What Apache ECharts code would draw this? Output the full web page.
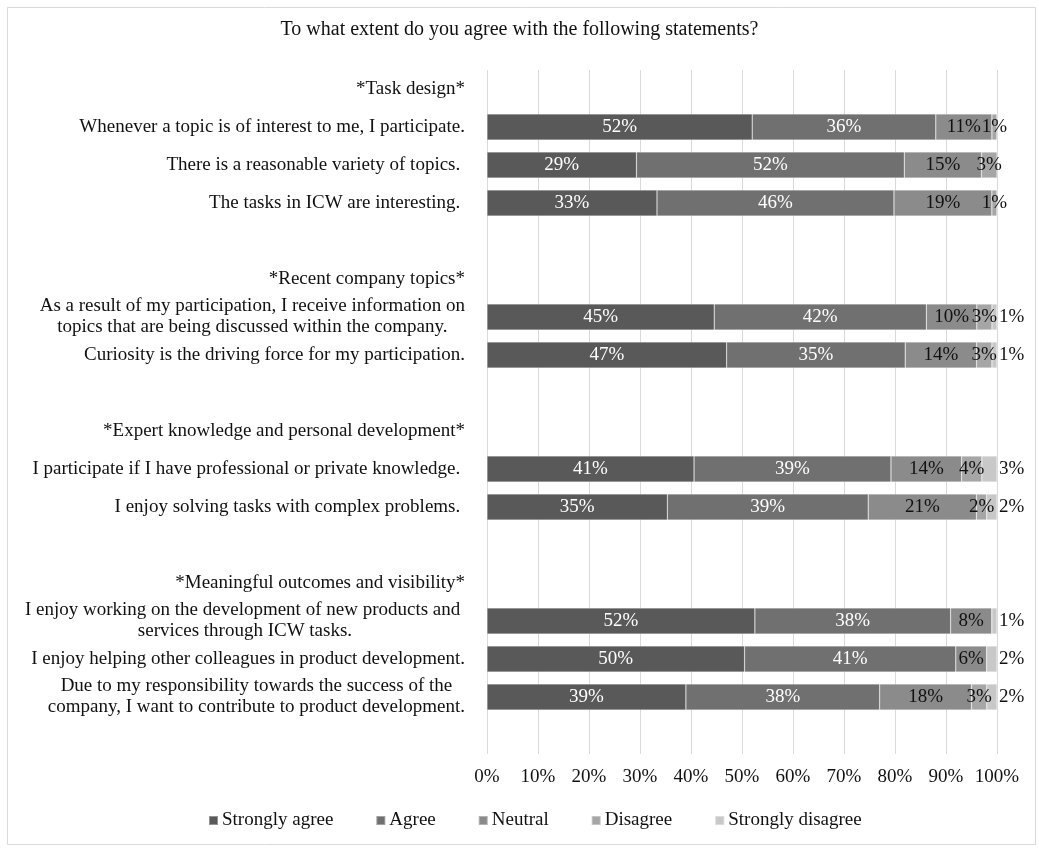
<!DOCTYPE html>
<html><head><meta charset="utf-8">
<script src="https://cdn.jsdelivr.net/npm/echarts@6/dist/echarts.min.js"></script>
<style>html,body{margin:0;padding:0;background:#fff}#c{width:1039px;height:848px}</style>
</head><body><div id="c"></div><script>
const titleText = 'To what extent do you agree with the following statements?';
const categories = [
  '*Task design*',
  'Whenever a topic is of interest to me, I participate.',
  'There is a reasonable variety of topics. ',
  'The tasks in ICW are interesting. ',
  ' ',
  '*Recent company topics*',
  'As a result of my participation, I receive information on\ntopics that are being discussed within the company.',
  'Curiosity is the driving force for my participation.',
  '  ',
  '*Expert knowledge and personal development*',
  'I participate if I have professional or private knowledge. ',
  'I enjoy solving tasks with complex problems. ',
  '   ',
  '*Meaningful outcomes and visibility*',
  'I enjoy working on the development of new products and \nservices through ICW tasks.',
  'I enjoy helping other colleagues in product development.',
  'Due to my responsibility towards the success of the\ncompany, I want to contribute to product development.',
  '    '
];
const seriesNames = ['Strongly agree', 'Agree', 'Neutral', 'Disagree', 'Strongly disagree'];
const stronglyAgree    = [null, 52, 29, 33, null, null, 45, 47, null, null, 41, 35, null, null, 52, 50, 39, null];
const agree            = [null, 36, 52, 46, null, null, 42, 35, null, null, 39, 39, null, null, 38, 41, 38, null];
const neutral          = [null, 11, 15, 19, null, null, 10, 14, null, null, 14, 21, null, null,  8,  6, 18, null];
const disagree         = [null,  1,  3,  1, null, null,  3,  3, null, null,  4,  2, null, null,  0,  0,  3, null];
const stronglyDisagree = [null,  0,  0,  0, null, null,  1,  1, null, null,  3,  2, null, null,  1,  2,  2, null];
const xTicks = [0, 10, 20, 30, 40, 50, 60, 70, 80, 90, 100];

const colors = ['#595959', '#707070', '#8b8b8b', '#a6a6a6', '#c8c8c8'];
const labelColors = ['#ffffff', '#ffffff', '#111111', '#111111', '#111111'];
const FONT = '"Liberation Serif", "Times New Roman", serif';
const FS = 19;

const allSeries = [stronglyAgree, agree, neutral, disagree, stronglyDisagree];
const totals = categories.map((c, i) => allSeries.reduce((s, arr) => s + (arr[i] || 0), 0));

const series = allSeries.map((arr, k) => ({
  name: seriesNames[k],
  type: 'bar',
  stack: 'total',
  barWidth: 26,
  silent: true,
  itemStyle: { color: colors[k], borderColor: 'rgba(255,255,255,0.35)', borderWidth: 0.6 },
  label: {
    show: true,
    position: k === 4 ? 'right' : 'inside',
    distance: 2,
    color: labelColors[k],
    fontFamily: FONT,
    fontSize: FS,
    formatter: p => (p.data && p.data.raw) ? p.data.raw + '%' : ''
  },
  data: arr.map((v, i) => v == null ? null : { value: v / totals[i] * 100, raw: v })
}));

const chart = echarts.init(document.getElementById('c'), null, { renderer: 'canvas' });
chart.setOption({
  animation: false,
  backgroundColor: '#ffffff',
  title: {
    text: titleText, left: 'center', top: 15,
    textStyle: { fontFamily: FONT, fontSize: 20, fontWeight: 'normal', color: '#111' }
  },
  graphic: [{
    type: 'rect', left: 5, top: 5, silent: true,
    shape: { width: 1028, height: 837 },
    style: { fill: 'none', stroke: '#d9d9d9', lineWidth: 1 }
  }],
  legend: {
    data: seriesNames, top: 806, left: 203,
    icon: 'rect', itemWidth: 9, itemHeight: 9, itemGap: 42,
    textStyle: { fontFamily: FONT, fontSize: FS, color: '#111', padding: [0, 0, 0, -1] }
  },
  grid: { left: 487, top: 70, width: 510, height: 684, containLabel: false },
  xAxis: {
    type: 'value', min: xTicks[0], max: xTicks[xTicks.length - 1], interval: 10,
    axisLine: { show: false }, axisTick: { show: false },
    splitLine: { show: true, lineStyle: { color: '#d9d9d9', width: 1 } },
    axisLabel: { formatter: '{value}%', fontFamily: FONT, fontSize: FS, color: '#111', margin: 14 }
  },
  yAxis: {
    type: 'category', inverse: true, data: categories,
    axisLine: { show: false }, axisTick: { show: false },
    axisLabel: {
      interval: 0, margin: 22, fontFamily: FONT, fontSize: FS, color: '#111', lineHeight: 21,
      formatter: v => v.indexOf('\n') >= 0 ? v.split('\n').map(l => '{c|' + l + '}').join('\n') : v,
      rich: { c: { align: 'center', fontFamily: FONT, fontSize: FS, color: '#111', lineHeight: 21 } }
    }
  },
  series: series
});
</script></body></html>
